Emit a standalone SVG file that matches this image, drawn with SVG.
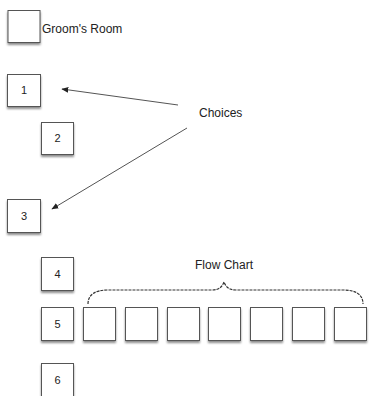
<svg xmlns="http://www.w3.org/2000/svg" width="369" height="396" viewBox="0 0 369 396">
<style>
.box{fill:#fff;stroke:#555;stroke-width:1;filter:url(#sh)}
.lbl{font-family:"Liberation Sans",Arial,sans-serif;font-size:12px;fill:#222}
.num{font-family:"Liberation Sans",Arial,sans-serif;font-size:11px;fill:#222;text-anchor:middle}
.conn{stroke:#555;stroke-width:1;fill:none;marker-end:url(#ah)}
</style>
<defs>
<filter id="sh" x="-30%" y="-30%" width="160%" height="170%">
<feDropShadow dx="0" dy="2" stdDeviation="1.3" flood-color="#000" flood-opacity="0.45"/>
</filter>
<marker id="ah" viewBox="0 0 10 10" refX="9" refY="5" markerWidth="7" markerHeight="7" orient="auto" markerUnits="userSpaceOnUse">
<path d="M0,1 L10,5 L0,9 z" fill="#222"/>
</marker>
</defs>
<g id="groom"><rect class="box" x="8" y="10.5" width="32" height="32"/><text class="lbl" x="42" y="33">Groom's Room</text></g>
<g id="n1"><rect class="box" x="7.5" y="74.5" width="33" height="32"/><text class="num" x="24" y="94">1</text></g>
<g id="n2"><rect class="box" x="41.5" y="122.5" width="32" height="32"/><text class="num" x="57.5" y="142">2</text></g>
<g id="n3"><rect class="box" x="7.5" y="199.5" width="33" height="33"/><text class="num" x="24" y="220">3</text></g>
<g id="n4"><rect class="box" x="41.5" y="257.5" width="32" height="33"/><text class="num" x="57.5" y="278">4</text></g>
<g id="n5"><rect class="box" x="41.5" y="307.5" width="32" height="33"/><text class="num" x="57.5" y="328">5</text></g>
<g id="n6"><rect class="box" x="41.5" y="363.5" width="32" height="33"/><text class="num" x="57.5" y="384">6</text></g>
<g id="f1"><rect class="box" x="83.5" y="307.5" width="32" height="33"/></g>
<g id="f2"><rect class="box" x="125.5" y="307.5" width="32" height="33"/></g>
<g id="f3"><rect class="box" x="167.5" y="307.5" width="32" height="33"/></g>
<g id="f4"><rect class="box" x="208.5" y="307.5" width="32" height="33"/></g>
<g id="f5"><rect class="box" x="250.5" y="307.5" width="32" height="33"/></g>
<g id="f6"><rect class="box" x="292.5" y="307.5" width="32" height="33"/></g>
<g id="f7"><rect class="box" x="334.5" y="307.5" width="32" height="33"/></g>
<g id="choices"><text class="lbl" x="199" y="117">Choices</text></g>
<g id="flowchart"><text class="lbl" x="224" y="269" text-anchor="middle">Flow Chart</text>
<path d="M88,304 C88,294 96,290 108,290 L212,290 C219,290 222,287 224,282 C226,287 229,290 236,290 L343,290 C355,290 363,294 363,304" fill="none" stroke="#333" stroke-width="1.2" stroke-dasharray="3,1"/></g>
<g id="connectors">
<line class="conn" x1="178" y1="105" x2="62" y2="89"/>
<line class="conn" x1="187" y1="128" x2="52" y2="209"/>
</g>
</svg>
